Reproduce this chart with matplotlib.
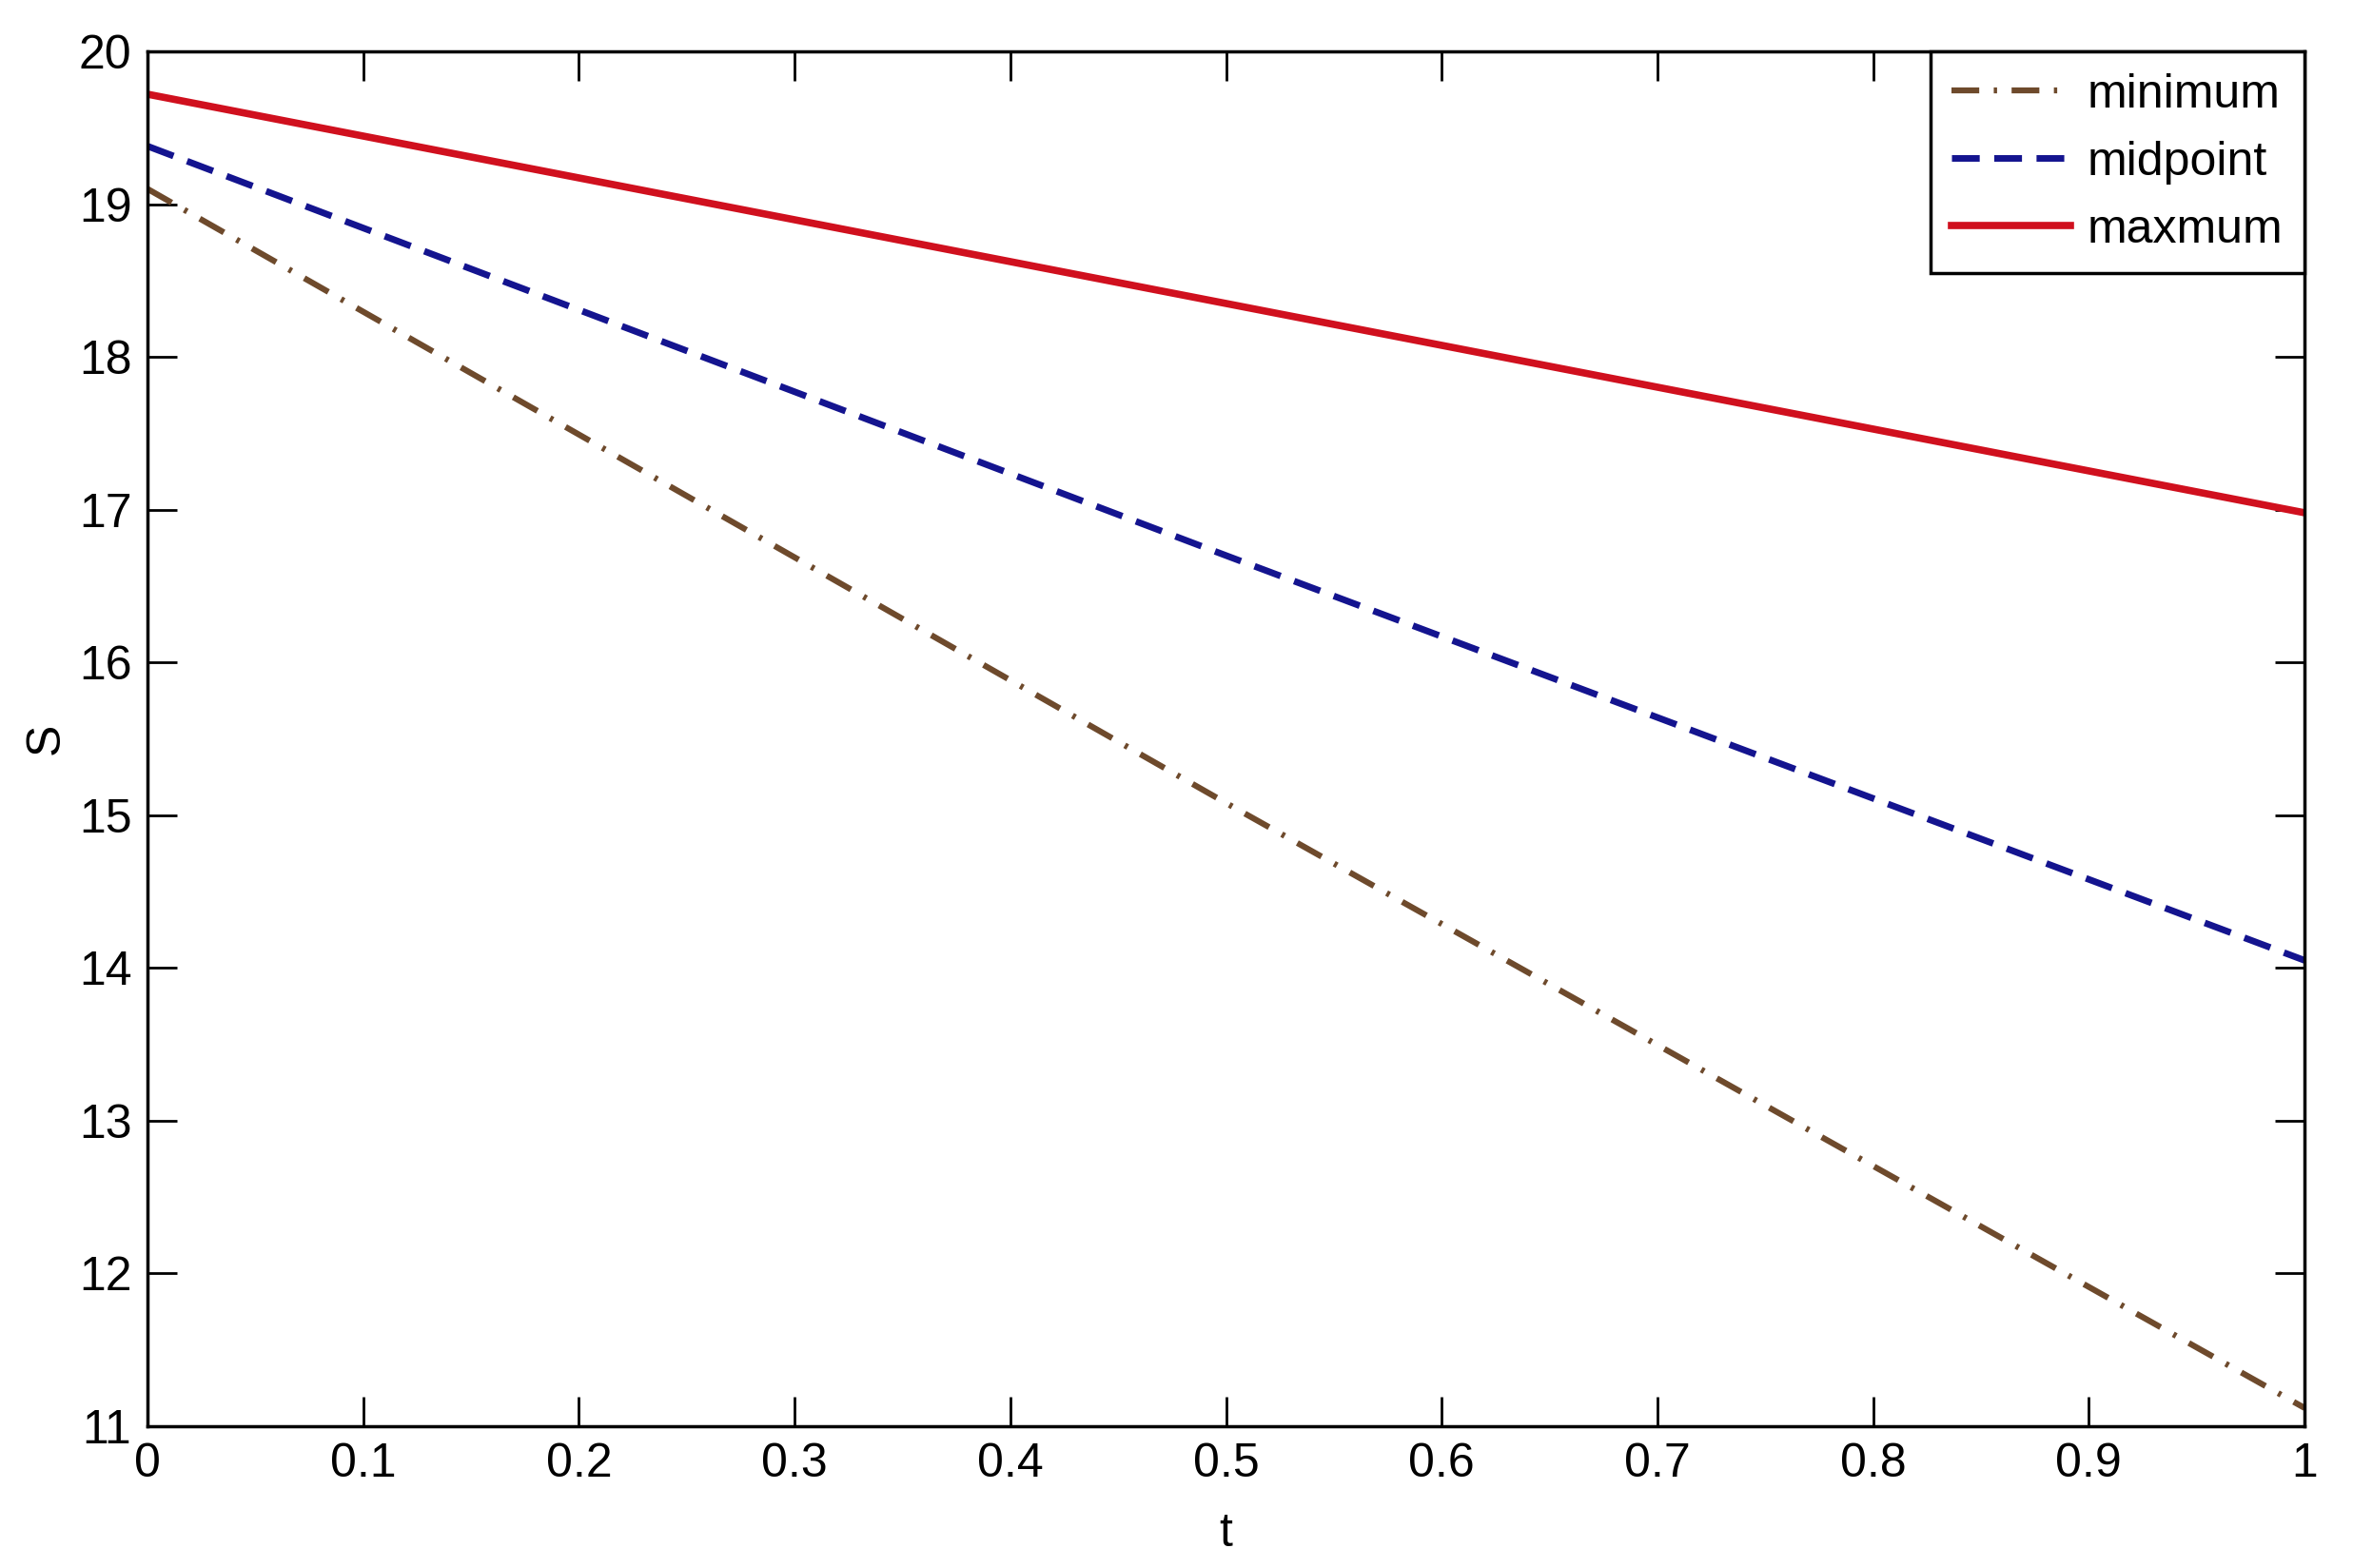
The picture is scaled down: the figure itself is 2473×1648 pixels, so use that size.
import matplotlib
matplotlib.use("Agg")
import matplotlib.pyplot as plt

t = [0.0, 0.5, 1.0]
s_minimum = [19.10, 15.08, 11.12]
s_midpoint = [19.38, 16.70, 14.05]
s_maximum = [19.72, 18.35, 16.98]
labels = ["minimum", "midpoint", "maxmum"]
xticks = [0, 0.1, 0.2, 0.3, 0.4, 0.5, 0.6, 0.7, 0.8, 0.9, 1]
yticks = [11, 12, 13, 14, 15, 16, 17, 18, 19, 20]

plt.rcParams['font.family'] = ['Liberation Sans Narrow', 'Liberation Sans', 'DejaVu Sans']
plt.rcParams['lines.scale_dashes'] = False

fig = plt.figure(figsize=(24.73, 16.48), dpi=100)
ax = fig.add_axes([0.0627, 0.0904, 0.9794 - 0.0627, 0.9672 - 0.0904])

l1, = ax.plot(t, s_minimum, color='#6e4a2c', lw=4.5, dashes=(21, 11, 2.5, 11), label=labels[0])
l2, = ax.plot(t, s_midpoint, color='#14148f', lw=5, dashes=(21, 11), label=labels[1])
l3, = ax.plot(t, s_maximum, color='#d0101e', lw=5.5, label=labels[2])

ax.set_xlim(0, 1)
ax.set_ylim(11, 20)
ax.set_xticks(xticks)
ax.set_xticklabels([f"{v:g}" for v in xticks])
ax.set_yticks(yticks)
ax.set_yticklabels([str(v) for v in yticks])
ax.tick_params(direction='in', length=22, width=2, top=True, right=True,
               labelsize=36, pad=12)
for sp in ax.spines.values():
    sp.set_linewidth(2.5)
ax.set_xlabel('t', fontsize=36, labelpad=20)
ax.set_ylabel('S', fontsize=36, labelpad=8)

leg = ax.legend(loc='upper right', fontsize=36, fancybox=False, framealpha=1,
                edgecolor='black', borderaxespad=0, handlelength=2.5,
                handletextpad=0.35, labelspacing=0.5, borderpad=0.45)
leg.get_frame().set_linewidth(2.5)

fig.savefig('out.png', dpi=100)
